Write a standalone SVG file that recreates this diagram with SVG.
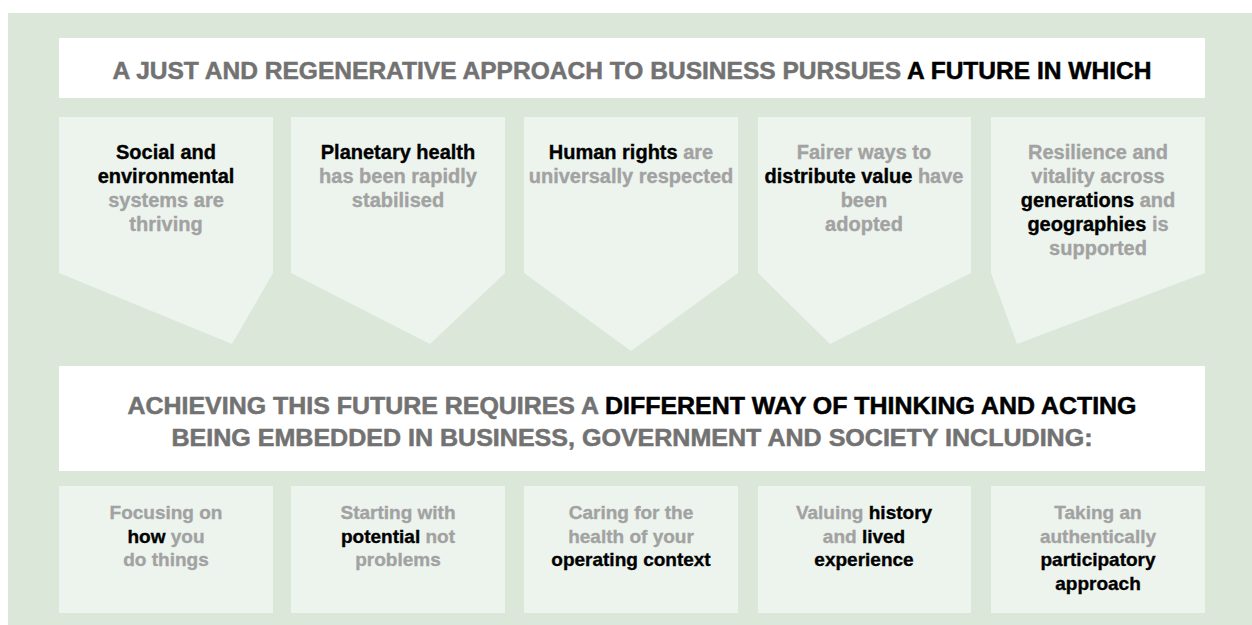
<svg xmlns="http://www.w3.org/2000/svg" width="1252" height="625" viewBox="0 0 1252 625">
<style>
.bg{fill:#dbe7d8}
.band{fill:#ffffff}
.card{fill:#edf4ee}
text{font-family:"Liberation Sans",Arial,sans-serif;font-weight:bold}
.h{font-size:24px;fill:#727272;stroke:#727272;stroke-width:0.5}
.h2{font-size:23px;fill:#727272;stroke:#727272;stroke-width:0.5}
.t{font-size:20px;fill:#a2a2a2;stroke:#a2a2a2;stroke-width:0.35;text-anchor:middle}
.b{font-size:19px;fill:#a2a2a2;stroke:#a2a2a2;stroke-width:0.35;text-anchor:middle}
.k{fill:#000000;stroke:#000000}
</style>
<rect class="bg" x="8" y="13" width="1244" height="612"/>

<g id="header-top">
<rect class="band" x="59" y="38" width="1146" height="60"/>
<text class="h" x="632" y="79" text-anchor="middle" textLength="1039" lengthAdjust="spacingAndGlyphs">A JUST AND REGENERATIVE APPROACH TO BUSINESS PURSUES <tspan class="k">A FUTURE IN WHICH</tspan></text>
</g>

<g id="future-1">
<polygon class="card" points="59,117 273,117 273,273 232,344 59,273"/>
<text class="t" x="166" y="159"><tspan class="k">Social and</tspan></text>
<text class="t" x="166" y="183"><tspan class="k">environmental</tspan></text>
<text class="t" x="166" y="207">systems are</text>
<text class="t" x="166" y="231">thriving</text>
</g>

<g id="future-2">
<polygon class="card" points="291,117 505,117 505,273 430,344 291,273"/>
<text class="t" x="398" y="159"><tspan class="k">Planetary health</tspan></text>
<text class="t" x="398" y="183">has been rapidly</text>
<text class="t" x="398" y="207">stabilised</text>
</g>

<g id="future-3">
<polygon class="card" points="524,117 738,117 738,273 631,351 524,273"/>
<text class="t" x="631" y="159"><tspan class="k">Human rights</tspan> are</text>
<text class="t" x="631" y="183">universally respected</text>
</g>

<g id="future-4">
<polygon class="card" points="758,117 971,117 971,273 830,344 758,273"/>
<text class="t" x="864" y="159">Fairer ways to</text>
<text class="t" x="864" y="183"><tspan class="k">distribute value</tspan> have</text>
<text class="t" x="864" y="207">been</text>
<text class="t" x="864" y="231">adopted</text>
</g>

<g id="future-5">
<polygon class="card" points="991,117 1205,117 1205,273 1017,344 991,273"/>
<text class="t" x="1098" y="159">Resilience and</text>
<text class="t" x="1098" y="183">vitality across</text>
<text class="t" x="1098" y="207"><tspan class="k">generations</tspan> and</text>
<text class="t" x="1098" y="231"><tspan class="k">geographies</tspan> is</text>
<text class="t" x="1098" y="255">supported</text>
</g>

<g id="header-bottom">
<rect class="band" x="59" y="366" width="1146" height="105"/>
<text class="h2" x="632" y="414" text-anchor="middle" textLength="1009" lengthAdjust="spacingAndGlyphs">ACHIEVING THIS FUTURE REQUIRES A <tspan class="k">DIFFERENT WAY OF THINKING AND ACTING</tspan></text>
<text class="h2" x="632" y="446" text-anchor="middle" textLength="921" lengthAdjust="spacingAndGlyphs">BEING EMBEDDED IN BUSINESS, GOVERNMENT AND SOCIETY INCLUDING:</text>
</g>

<g id="way-1">
<rect class="card" x="59" y="486" width="214" height="127"/>
<text class="b" x="166" y="519">Focusing on</text>
<text class="b" x="166" y="543"><tspan class="k">how</tspan> you</text>
<text class="b" x="166" y="566">do things</text>
</g>

<g id="way-2">
<rect class="card" x="291" y="486" width="214" height="127"/>
<text class="b" x="398" y="519">Starting with</text>
<text class="b" x="398" y="543"><tspan class="k">potential</tspan> not</text>
<text class="b" x="398" y="566">problems</text>
</g>

<g id="way-3">
<rect class="card" x="524" y="486" width="214" height="127"/>
<text class="b" x="631" y="519">Caring for the</text>
<text class="b" x="631" y="543">health of your</text>
<text class="b" x="631" y="566"><tspan class="k">operating context</tspan></text>
</g>

<g id="way-4">
<rect class="card" x="758" y="486" width="213" height="127"/>
<text class="b" x="864" y="519">Valuing <tspan class="k">history</tspan></text>
<text class="b" x="864" y="543">and <tspan class="k">lived</tspan></text>
<text class="b" x="864" y="566"><tspan class="k">experience</tspan></text>
</g>

<g id="way-5">
<rect class="card" x="991" y="486" width="214" height="127"/>
<text class="b" x="1098" y="519">Taking an</text>
<text class="b" x="1098" y="543">authentically</text>
<text class="b" x="1098" y="566"><tspan class="k">participatory</tspan></text>
<text class="b" x="1098" y="590"><tspan class="k">approach</tspan></text>
</g>
</svg>
